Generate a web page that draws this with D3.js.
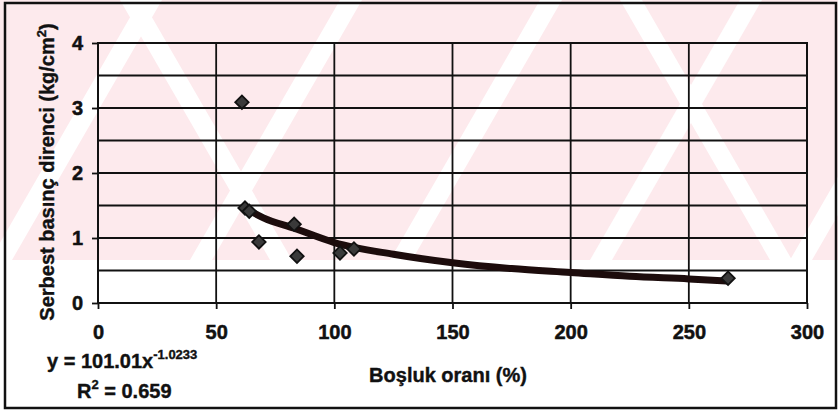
<!DOCTYPE html>
<html>
<head>
<meta charset="utf-8">
<script src="https://cdn.jsdelivr.net/npm/d3@7"></script>
<style>
  body { margin: 0; background: #fff; }
  text { font-family: "Liberation Sans", Arial, sans-serif; font-weight: bold; fill: #111; }
</style>
</head>
<body>
<div id="chart"></div>
<script>
// data
var voidRatio = [60.9, 62.2, 64, 68.1, 83, 84.2, 102.4, 108.3, 266.6];
var strength  = [3.09, 1.46, 1.41, 0.94, 1.21, 0.72, 0.77, 0.83, 0.38];

// trendline as drawn (power fit shown in the equation)
var trendX = [62, 70, 83, 100, 125, 150, 175, 200, 225, 250, 266];
var trendY = [1.47, 1.31, 1.15, 0.93, 0.75, 0.62, 0.53, 0.47, 0.41, 0.37, 0.34];

var xTicks = [0, 50, 100, 150, 200, 250, 300];
var yTicks = [0, 1, 2, 3, 4];
var yGrid  = [0.5, 1, 1.5, 2, 2.5, 3, 3.5, 4];

var W = 838, H = 411;
var margin = {top: 43, right: 31, bottom: 108, left: 98},
    width = W - margin.left - margin.right,
    height = H - margin.top - margin.bottom;

var svg = d3.select("#chart")
  .append("svg")
    .attr("width", W)
    .attr("height", H);

// faint watermark behind the chart
var wm = svg.append("g");
wm.append("clipPath").attr("id", "wmclip")
  .append("rect").attr("x", 0).attr("y", 0).attr("width", W).attr("height", 260);
var wmg = wm.append("g").attr("clip-path", "url(#wmclip)");
wmg.append("rect").attr("x", 0).attr("y", 0).attr("width", W).attr("height", 260)
  .style("fill", "#fdeaed");
[-60, 140, 340, 540, 740, 940].forEach(function (s) {
  wmg.append("path")
    .attr("d", "M" + (s - 150) + ",260 L" + s + ",0 L" + (s + 22) + ",0 L" + (s - 128) + ",260 Z")
    .style("fill", "#fff");
});
[120, 620].forEach(function (s) {
  wmg.append("path")
    .attr("d", "M" + s + ",0 L" + (s + 150) + ",260 L" + (s + 172) + ",260 L" + (s + 22) + ",0 Z")
    .style("fill", "#fff");
});

// outer frame
svg.append("rect")
  .attr("x", 5).attr("y", 3).attr("width", 831).attr("height", 405)
  .style("fill", "none").style("stroke", "#111").style("stroke-width", 2.5);

var g = svg.append("g")
  .attr("transform", "translate(" + margin.left + "," + margin.top + ")");

var x = d3.scaleLinear().domain([0, 300]).range([0, width]);
var y = d3.scaleLinear().domain([0, 4]).range([height, 0]);

// grid
g.selectAll(".hgrid").data(yGrid).enter().append("line")
  .attr("x1", 0).attr("x2", width)
  .attr("y1", function (d) { return y(d); }).attr("y2", function (d) { return y(d); })
  .style("stroke", "#111").style("stroke-width", 1.8);
g.selectAll(".vgrid").data(xTicks.slice(1)).enter().append("line")
  .attr("y1", 0).attr("y2", height)
  .attr("x1", function (d) { return x(d); }).attr("x2", function (d) { return x(d); })
  .style("stroke", "#111").style("stroke-width", 1.8);

// axes
var xAxis = g.append("g")
  .attr("transform", "translate(0," + height + ")")
  .call(d3.axisBottom(x).tickValues(xTicks).tickFormat(d3.format("d")).tickSize(6).tickPadding(16));
var yAxis = g.append("g")
  .call(d3.axisLeft(y).tickValues(yTicks).tickFormat(d3.format("d")).tickSize(6).tickPadding(9));
[xAxis, yAxis].forEach(function (a) {
  a.select(".domain").remove();
  a.selectAll("line").style("stroke", "#111").style("stroke-width", 1.8);
  a.selectAll("text").style("font-size", "20px").style("fill", "#111")
    .style("font-family", "'Liberation Sans', Arial, sans-serif").style("font-weight", "bold")
    .style("stroke", "#111").style("stroke-width", 0.5);
});

// plot border
g.append("rect").attr("width", width).attr("height", height)
  .style("fill", "none").style("stroke", "#111").style("stroke-width", 2);

// trendline
var line = d3.line()
  .x(function (d, i) { return x(trendX[i]); })
  .y(function (d) { return y(d); })
  .curve(d3.curveMonotoneX);
g.append("path").datum(trendY)
  .attr("d", line)
  .style("fill", "none").style("stroke", "#1c0c0c")
  .style("stroke-width", 7).style("stroke-linecap", "round");

// markers
var diamond = d3.symbol().type(d3.symbolSquare).size(90);
g.selectAll(".pt").data(strength).enter().append("path")
  .attr("d", diamond)
  .attr("transform", function (d, i) {
    return "translate(" + x(voidRatio[i]) + "," + y(d) + ") rotate(45)";
  })
  .style("fill", "#3a3a3a").style("stroke", "#111").style("stroke-width", 1.8);

// axis titles
svg.append("text")
  .attr("x", 448).attr("y", 382)
  .attr("text-anchor", "middle")
  .style("font-size", "20px").style("stroke", "#111").style("stroke-width", 0.4)
  .text("Boşluk oranı (%)");

var yt = svg.append("text")
  .attr("transform", "translate(54,172) rotate(-90)")
  .attr("text-anchor", "middle")
  .style("font-size", "20px").style("stroke", "#111").style("stroke-width", 0.4);
yt.append("tspan").text("Serbest basınç direnci (kg/cm");
yt.append("tspan").attr("dy", -8).style("font-size", "13px").text("2");
yt.append("tspan").attr("dy", 8).text(")");

// equation
var eq = svg.append("text").attr("x", 47).attr("y", 368)
  .style("font-size", "20px").style("stroke", "#111").style("stroke-width", 0.4);
eq.append("tspan").text("y = 101.01x");
eq.append("tspan").attr("dy", -9).style("font-size", "13px").text("-1.0233");

var r2 = svg.append("text").attr("x", 77).attr("y", 398)
  .style("font-size", "20px").style("stroke", "#111").style("stroke-width", 0.4);
r2.append("tspan").text("R");
r2.append("tspan").attr("dy", -9).style("font-size", "13px").text("2");
r2.append("tspan").attr("dy", 9).text(" = 0.659");
</script>
</body>
</html>
